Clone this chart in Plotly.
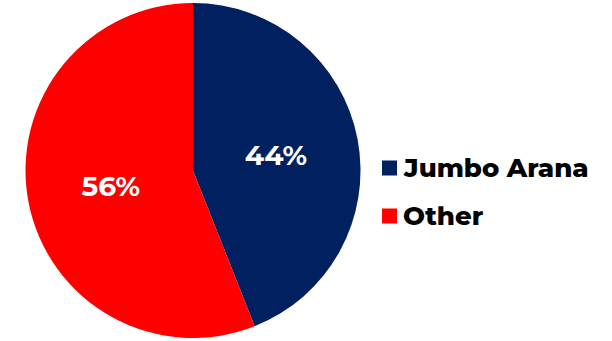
import plotly.graph_objects as go

labels = ["Jumbo Arana", "Other"]
values = [44, 56]
colors = ["#002060", "#FF0000"]

W, H = 612, 341
FONT = "Montserrat, Open Sans, Lato"
fig = go.Figure(go.Pie(
    labels=labels, values=values, sort=False, direction="clockwise", rotation=0,
    marker=dict(colors=colors, line=dict(width=0)),
    textinfo="percent", textposition="inside", insidetextorientation="horizontal",
    textfont=dict(family=FONT, size=28, color="white", weight="bold"),
    texttemplate="%{percent:.0%}",
    domain=dict(x=[25/W, 361/W], y=[1-338/H, 1-3/H]),
    hoverinfo="skip", showlegend=False,
))

# legend drawn as swatches + labels
leg_x0 = 382
leg_y = [168, 216]
for lab, col, yc in zip(labels, colors, leg_y):
    fig.add_shape(type="rect", xref="paper", yref="paper",
                  x0=leg_x0/W, x1=(leg_x0+15)/W,
                  y0=1-(yc+7.5)/H, y1=1-(yc-7.5)/H,
                  fillcolor=col, line=dict(width=0))
    fig.add_annotation(xref="paper", yref="paper", x=(leg_x0+19)/W, y=1-yc/H,
                       xanchor="left", yanchor="middle", showarrow=False,
                       text=lab, font=dict(family=FONT, size=26, color="black", weight=800))

fig.update_layout(
    width=W, height=H, margin=dict(l=0, r=0, t=0, b=0),
    paper_bgcolor="white", plot_bgcolor="white",
)
fig.write_html("out.html")
